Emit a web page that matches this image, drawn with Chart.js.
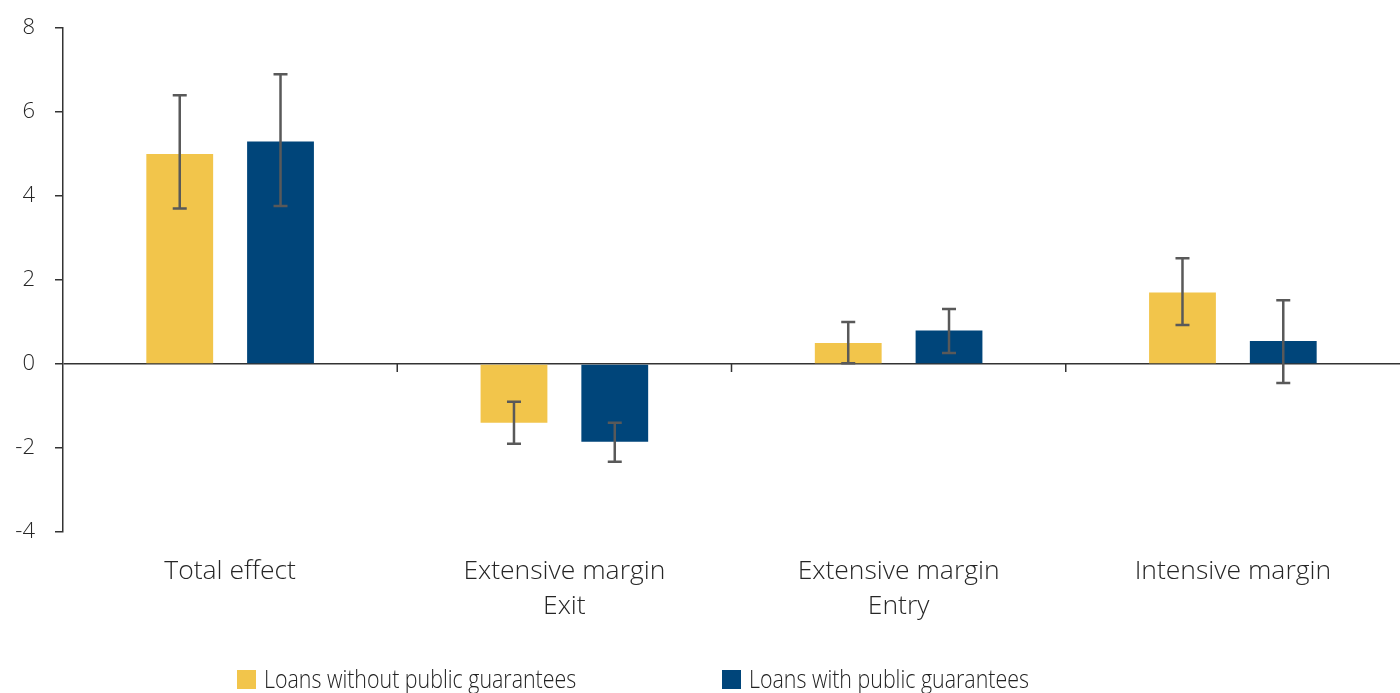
<!DOCTYPE html>
<html>
<head>
<meta charset="utf-8">
<script src="https://cdn.jsdelivr.net/npm/chart.js@4.4.1/dist/chart.umd.min.js"></script>
<style>
  html, body { margin: 0; padding: 0; background: #fff; overflow: hidden; }
  #wrap { position: relative; width: 1400px; height: 693px; }
  #legend { position: absolute; left: 0; top: 662px; width: 1400px; height: 40px;
            font-family: 'Open Sans', sans-serif; font-size: 25px; font-weight: 300; color: #222; }
  .item { position: absolute; top: 0; white-space: nowrap; line-height: 32px; }
  .sw { display: inline-block; width: 19px; height: 19px; margin-right: 8px; vertical-align: -1px; }
  .txt { display: inline-block; transform: scaleX(0.855); transform-origin: 0 50%; }
</style>
</head>
<body>
<div id="wrap">
  <canvas id="chart" width="1400" height="693"></canvas>
  <div id="legend"></div>
</div>
<script>
// categories and series (percentage points)
const categories = ['Total effect', ['Extensive margin', 'Exit'], ['Extensive margin', 'Entry'], 'Intensive margin'];
const seriesNames = ['Loans without public guarantees', 'Loans with public guarantees'];
const withoutGuarantee = [5.0, -1.4, 0.5, 1.7];
const withGuarantee = [5.3, -1.85, 0.8, 0.55];
// confidence intervals
const withoutLow = [3.7, -1.9, 0.02, 0.93];
const withoutHigh = [6.4, -0.9, 1.0, 2.52];
const withLow = [3.76, -2.33, 0.26, -0.45];
const withHigh = [6.9, -1.4, 1.31, 1.52];
const yTicks = [-4, -2, 0, 2, 4, 6, 8];

const COLORS = { yellow: '#F2C54B', blue: '#00457A', axis: '#333333', whisker: '#595959', text: '#262626' };
const FONT = "'Open Sans', sans-serif";

// whiskers on each bar
const errorBars = {
  id: 'errorBars',
  afterDatasetsDraw(chart) {
    const ctx = chart.ctx;
    const y = chart.scales.y;
    const ranges = [[withoutLow, withoutHigh], [withLow, withHigh]];
    ctx.save();
    ctx.strokeStyle = COLORS.whisker;
    ctx.lineWidth = 2.5;
    chart.data.datasets.forEach((ds, di) => {
      const meta = chart.getDatasetMeta(di);
      meta.data.forEach((bar, i) => {
        const lo = y.getPixelForValue(ranges[di][0][i]);
        const hi = y.getPixelForValue(ranges[di][1][i]);
        ctx.beginPath();
        ctx.moveTo(bar.x, lo); ctx.lineTo(bar.x, hi);
        ctx.moveTo(bar.x - 7, lo); ctx.lineTo(bar.x + 7, lo);
        ctx.moveTo(bar.x - 7, hi); ctx.lineTo(bar.x + 7, hi);
        ctx.stroke();
      });
    });
    ctx.restore();
  }
};

// small separators between groups on the zero line
const groupTicks = {
  id: 'groupTicks',
  afterDatasetsDraw(chart) {
    const ctx = chart.ctx;
    const x = chart.scales.x;
    const y0 = chart.scales.y.getPixelForValue(0);
    ctx.save();
    ctx.strokeStyle = COLORS.axis;
    ctx.lineWidth = 1.5;
    for (let i = 0; i < categories.length - 1; i++) {
      const px = (x.getPixelForTick(i) + x.getPixelForTick(i + 1)) / 2;
      ctx.beginPath();
      ctx.moveTo(px, y0); ctx.lineTo(px, y0 + 8);
      ctx.stroke();
    }
    ctx.restore();
  }
};

new Chart(document.getElementById('chart'), {
  type: 'bar',
  data: {
    labels: categories,
    datasets: [
      { label: seriesNames[0], data: withoutGuarantee, backgroundColor: COLORS.yellow },
      { label: seriesNames[1], data: withGuarantee, backgroundColor: COLORS.blue }
    ]
  },
  options: {
    responsive: false,
    animation: false,
    layout: { padding: { top: 28, right: -4, bottom: 0, left: 0 } },
    categoryPercentage: 0.603,
    barPercentage: 0.663,
    plugins: { legend: { display: false }, tooltip: { enabled: false } },
    scales: {
      x: {
        grid: { display: false },
        border: { display: false },
        ticks: { color: COLORS.text, font: { family: FONT, size: 26.5, weight: 300, lineHeight: 1.32 }, padding: 14, maxRotation: 0, autoSkip: false },
        afterFit(scale) { scale.height = 161; }
      },
      y: {
        min: -4,
        max: 8,
        afterBuildTicks(scale) { scale.ticks = yTicks.map(v => ({ value: v })); },
        border: { color: COLORS.axis, width: 1.5 },
        grid: {
          color: c => c.tick && c.tick.value === 0 ? COLORS.axis : 'rgba(0,0,0,0)',
          lineWidth: 1.5,
          tickColor: COLORS.axis,
          tickLength: 8,
          drawOnChartArea: true
        },
        ticks: { color: COLORS.text, font: { family: FONT, size: 22, weight: 300 }, padding: 20 },
        afterFit(scale) {
          scale.width = 63;
          scale.paddingTop = 14;
          scale.paddingBottom = 14;
        }
      }
    }
  },
  plugins: [errorBars, groupTicks]
});

// legend
const legend = document.getElementById('legend');
const legendLeft = [237, 722];
[COLORS.yellow, COLORS.blue].forEach((c, i) => {
  const el = document.createElement('div');
  el.className = 'item';
  el.style.left = legendLeft[i] + 'px';
  el.innerHTML = '<span class="sw" style="background:' + c + '"></span><span class="txt">' + seriesNames[i] + '</span>';
  legend.appendChild(el);
});
</script>
</body>
</html>
